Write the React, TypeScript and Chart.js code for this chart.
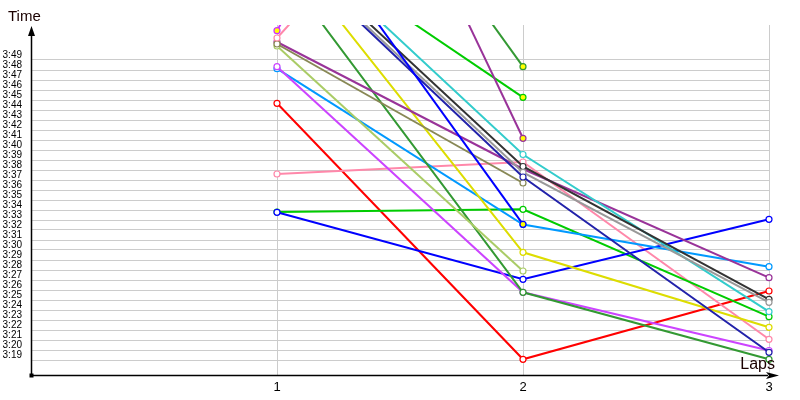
import { useEffect, useRef } from 'react'
import { Chart, registerables } from 'chart.js'

Chart.register(...registerables)

// laps on the x axis
const laps = [1, 2, 3]
const xTicks = [1, 2, 3]

// lap times in seconds (e.g. 224.67 = 3:44.67), null = no lap recorded
const red = [224.67, 199.07, 205.9]
const pink = [217.6, 218.8, 201.07]
const green = [213.8, 214.07, 203.33]
const blue = [213.77, 207.07, 213.07]
const dodger = [228.13, 212.55, 208.33]
const magenta = [228.33, 205.77, 199.95]
const darkGreen = [238.65, 205.77, 199.07]
const lightOlive = [230.4, 207.9, null]
const yellow = [240.83, 209.77, 202.27]
const purple = [230.8, 218.1, 207.23]
const olive = [230.6, 216.7, null]
const cyan = [242.47, 219.55, 203.83]
const black = [241.22, 218.35, 205.07]
const gray = [240.8, 217.75, 204.77]
const navy = [240.6, 217.3, 199.77]
const violet = [231.93, 276.1, null]
const pink2 = [231.2, 258.3, null]
const greenB = [241.89, 225.27, null]
const purpleB = [272.78, 221.17, null]
const darkGreenB = [262.53, 228.33, null]
const blueB = [246.62, 212.57, null]

// y axis tick labels (seconds)
const yTicks = [
  199, 200, 201, 202, 203, 204, 205, 206, 207, 208, 209, 210, 211, 212, 213, 214,
  215, 216, 217, 218, 219, 220, 221, 222, 223, 224, 225, 226, 227, 228, 229,
]

// series, their colours and the laps marked with a yellow (pit) marker
const series = [
  red, pink, green, blue, dodger, magenta, darkGreen, lightOlive, yellow, purple, olive,
  cyan, black, gray, navy, violet, pink2, greenB, purpleB, darkGreenB, blueB,
]
const colors = [
  '#ff0000', '#ff88aa', '#00cc00', '#0000ff', '#0099ff', '#cc44ff', '#339933', '#aacc66',
  '#dddd00', '#993399', '#888855', '#33cccc', '#333333', '#999999', '#2222aa', '#cc33ff',
  '#ff88aa', '#00cc00', '#993399', '#339933', '#0000ff',
]
const pitLaps = [
  [], [], [], [], [], [], [], [], [], [1], [], [], [], [], [], [1], [], [2], [2], [2], [2],
]

const fmt = (v: number) => {
  const m = Math.floor(v / 60)
  const s = Math.round(v - m * 60)
  return m + ':' + (s < 10 ? '0' + s : s)
}

const axesPlugin = {
  id: 'axesArrows',
  afterDraw(chart: Chart) {
    const { ctx, chartArea } = chart
    const { left, top, bottom } = chartArea
    const x0 = Math.round(left) + 0.5
    const y0 = Math.round(bottom) + 0.5
    ctx.save()
    ctx.strokeStyle = '#000'
    ctx.fillStyle = '#000'
    ctx.lineWidth = 1.5
    ctx.beginPath()
    ctx.moveTo(x0, y0)
    ctx.lineTo(x0, top + 8)
    ctx.moveTo(x0, y0)
    ctx.lineTo(768, y0)
    ctx.stroke()
    // arrow heads
    ctx.beginPath()
    ctx.moveTo(x0, top + 1)
    ctx.lineTo(x0 - 3.5, top + 11)
    ctx.lineTo(x0 + 3.5, top + 11)
    ctx.closePath()
    ctx.fill()
    ctx.beginPath()
    ctx.moveTo(779, y0)
    ctx.lineTo(766, y0 - 3.5)
    ctx.lineTo(769, y0)
    ctx.lineTo(766, y0 + 3.5)
    ctx.closePath()
    ctx.fill()
    ctx.fillRect(x0 - 2, y0 - 2, 4, 4)
    // axis titles
    ctx.fillStyle = '#1a0000'
    ctx.font = '15px "Liberation Sans", Arial, sans-serif'
    ctx.textBaseline = 'alphabetic'
    ctx.textAlign = 'left'
    ctx.fillText('Time', 8, 21)
    ctx.font = '16px "Liberation Sans", Arial, sans-serif'
    ctx.textAlign = 'right'
    ctx.fillText('Laps', 775, 369)
    ctx.restore()
  },
}

export default function App() {
  const canvasRef = useRef<HTMLCanvasElement>(null)

  useEffect(() => {
    document.body.style.margin = '0'
    if (!canvasRef.current) return
    const ctx = canvasRef.current.getContext('2d')
    if (!ctx) return

    const datasets = series.map((values, i) => ({
      label: 'Driver ' + (i + 1),
      data: laps
        .map((lap, j) => ({ x: lap, y: values[j] }))
        .filter(p => p.y !== null),
      borderColor: colors[i],
      backgroundColor: colors[i],
      borderWidth: 2,
      pointRadius: 3,
      pointBorderWidth: 1.2,
      pointBorderColor: colors[i],
      pointBackgroundColor: laps
        .filter((_, j) => values[j] !== null)
        .map(lap => (pitLaps[i].includes(lap) ? '#ffff00' : '#ffffff')),
      tension: 0,
      clip: { left: 5, top: 0, right: 6, bottom: 5 },
    }))

    const chart = new Chart(ctx, {
      type: 'line',
      data: { datasets: datasets.reverse() },
      plugins: [axesPlugin],
      options: {
        responsive: true,
        maintainAspectRatio: false,
        animation: false,
        layout: { padding: { top: 25, right: 31, left: 0, bottom: 0 } },
        plugins: {
          legend: { display: false },
          tooltip: { enabled: false },
        },
        scales: {
          x: {
            type: 'linear',
            min: 0,
            max: 3,
            afterBuildTicks: (scale: any) => {
              scale.ticks = xTicks.map(v => ({ value: v }))
            },
            afterFit: (scale: any) => {
              scale.height = 25
            },
            border: { display: false },
            grid: { color: '#cccccc', lineWidth: 1, drawTicks: false },
            ticks: {
              padding: 5,
              color: '#000',
              autoSkip: false,
              font: { family: '"Liberation Sans", Arial, sans-serif', size: 13 },
              maxRotation: 0,
            },
          },
          y: {
            type: 'linear',
            min: 197.5,
            max: 232.5,
            afterBuildTicks: (scale: any) => {
              scale.ticks = yTicks.map(v => ({ value: v }))
            },
            afterFit: (scale: any) => {
              scale.width = 31
            },
            border: { display: false },
            grid: { color: '#cccccc', lineWidth: 1, drawTicks: false },
            ticks: {
              padding: 9,
              labelOffset: -5,
              autoSkip: false,
              color: '#000',
              font: { family: '"Liberation Sans", Arial, sans-serif', size: 10 },
              callback: (v: any) => fmt(Number(v)),
            },
          },
        },
      },
    })

    return () => {
      chart.destroy()
    }
  }, [])

  return (
    <div style={{ width: 800, height: 400, position: 'relative' }}>
      <canvas ref={canvasRef}></canvas>
    </div>
  )
}
